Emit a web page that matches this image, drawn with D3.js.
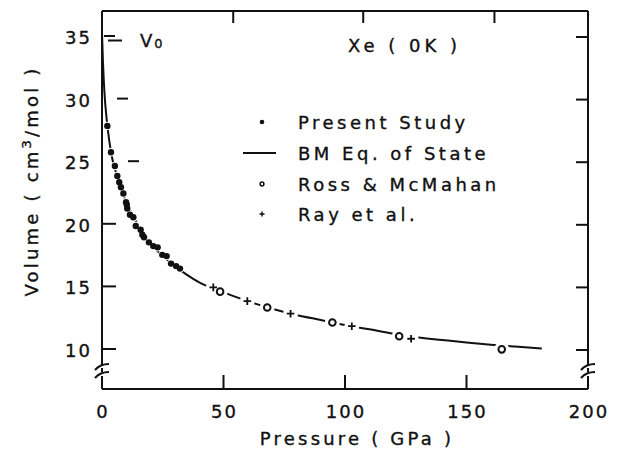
<!DOCTYPE html>
<html lang="en">
<head>
<meta charset="UTF-8">
<title>Xe (0K) volume vs pressure</title>
<script src="https://d3js.org/d3.v7.min.js"></script>
<style>
  body { margin: 0; background: #fff; }
  text { font-family: "DejaVu Sans", Arial, sans-serif; fill: #111; stroke: #111; stroke-width: 0.35px; }
  .tick-label { font-size: 18px; letter-spacing: 2px; }
  .axis-title { font-size: 18px; letter-spacing: 3.2px; }
  .legend-text { font-size: 18px; letter-spacing: 3.5px; }
</style>
</head>
<body>
<div id="chart"></div>
<script>
// present study (filled dots): [pressure GPa, volume cm3/mol]
const presentStudy = [
  [2.2, 27.9], [3.7, 25.8], [5.3, 24.7], [6.3, 23.9], [7.1, 23.4], [7.8, 23.0],
  [8.8, 22.5], [9.9, 21.8], [10.2, 21.6], [10.4, 21.3], [11.5, 20.8], [12.9, 20.6],
  [13.9, 19.9], [15.9, 19.6], [16.6, 19.2], [17.3, 19.0], [19.3, 18.6], [21.1, 18.3],
  [22.9, 18.2], [24.8, 17.6], [26.6, 17.5], [28.4, 16.9], [30.5, 16.7], [32.1, 16.5]
];
// Ross & McMahan (open circles)
const rossMcMahan = [[48.6, 14.66], [68, 13.4], [94.8, 12.2], [122.3, 11.1], [164.5, 10.05]];
// Ray et al. (plus)
const rayEtAl = [[45.8, 15.0], [59.8, 13.9], [77.6, 12.9], [102.8, 11.9], [127.2, 10.9]];
// BM equation of state curve
const bmCurve = [
  [0, 35.3], [0.4, 33.0], [1, 30.6], [2, 28.3], [3, 26.7], [4, 25.5], [5, 24.7],
  [6, 24.0], [8, 22.8], [10, 21.8], [12, 21.0], [15, 19.9], [20, 18.5], [25, 17.5],
  [30, 16.7], [35, 16.0], [40, 15.4], [50, 14.6], [60, 13.9], [70, 13.3], [80, 12.8],
  [90, 12.4], [100, 12.0], [110, 11.65], [120, 11.3], [130, 11.0], [140, 10.8],
  [150, 10.6], [160, 10.42], [170, 10.27], [181, 10.12]
];
const xTicks = [0, 50, 100, 150, 200];
const yTicks = [10, 15, 20, 25, 30, 35];
const topTicks = [54, 107.5, 161.5];
const legendItems = ["Present Study", "BM Eq. of State", "Ross & McMahan", "Ray et al."];

const width = 639, height = 451;
const plotL = 102, plotR = 588, plotT = 11, plotB = 389;

const svg = d3.select("#chart").append("svg")
  .attr("width", width).attr("height", height);

const x = d3.scaleLinear().domain([0, 200]).range([plotL, plotR]);
const y = d3.scaleLinear().domain([10, 35]).range([350, 37]);

const ink = "#111";
const g = svg.append("g");

// frame: top and bottom
g.append("line").attr("x1", plotL).attr("x2", plotR).attr("y1", plotT).attr("y2", plotT)
  .attr("stroke", ink).attr("stroke-width", 2);
g.append("line").attr("x1", plotL).attr("x2", plotR).attr("y1", plotB).attr("y2", plotB)
  .attr("stroke", ink).attr("stroke-width", 2);

// side axes with break
[plotL, plotR].forEach(ax => {
  g.append("line").attr("x1", ax).attr("x2", ax).attr("y1", plotT).attr("y2", 365)
    .attr("stroke", ink).attr("stroke-width", 2);
  g.append("line").attr("x1", ax).attr("x2", ax).attr("y1", 368).attr("y2", 372)
    .attr("stroke", ink).attr("stroke-width", 2);
  g.append("line").attr("x1", ax).attr("x2", ax).attr("y1", 376).attr("y2", plotB)
    .attr("stroke", ink).attr("stroke-width", 2);
  [367, 375].forEach(by => {
    g.append("path")
      .attr("d", `M${ax - 7},${by + 3} Q${ax - 2},${by - 3} ${ax + 7},${by - 3}`)
      .attr("fill", "none").attr("stroke", ink).attr("stroke-width", 2);
  });
});

// bottom ticks + labels
xTicks.forEach(t => {
  if (t > 0 && t < 200) {
    g.append("line").attr("x1", x(t)).attr("x2", x(t)).attr("y1", plotB).attr("y2", plotB - 14)
      .attr("stroke", ink).attr("stroke-width", 2);
  }
  g.append("text").attr("class", "tick-label")
    .attr("x", x(t) + 1).attr("y", 418).attr("text-anchor", "middle").text(t);
});
// top ticks
topTicks.forEach(t => {
  g.append("line").attr("x1", x(t)).attr("x2", x(t)).attr("y1", plotT).attr("y2", plotT + 12)
    .attr("stroke", ink).attr("stroke-width", 2);
});

// left ticks (upper ones drawn detached as in the original)
const leftTickOffset = { 35: [2, 13], 30: [15, 26], 25: [26, 37] };
yTicks.forEach(t => {
  const off = leftTickOffset[t] || [0, 14];
  g.append("line").attr("x1", plotL + off[0]).attr("x2", plotL + off[1])
    .attr("y1", y(t) - 1).attr("y2", y(t) - 1)
    .attr("stroke", ink).attr("stroke-width", 2);
  g.append("line").attr("x1", plotR - 12).attr("x2", plotR)
    .attr("y1", y(t)).attr("y2", y(t))
    .attr("stroke", ink).attr("stroke-width", 2);
  g.append("text").attr("class", "tick-label")
    .attr("x", 92).attr("y", y(t) + 7).attr("text-anchor", "end").text(t);
});

// V0 marker
const v0 = 34.8;
g.append("line").attr("x1", plotL + 6).attr("x2", plotL + 20)
  .attr("y1", y(v0) + 1).attr("y2", y(v0) + 1).attr("stroke", ink).attr("stroke-width", 2);
const v0Label = g.append("text").attr("class", "tick-label")
  .attr("x", 140).attr("y", y(v0) + 7).text("V");
v0Label.append("tspan").attr("font-size", 13).attr("dy", 1).text("0");

// BM curve
const line = d3.line().x(d => x(d[0])).y(d => y(d[1])).curve(d3.curveMonotoneX);
g.append("path").datum(bmCurve).attr("d", line)
  .attr("fill", "none").attr("stroke", ink).attr("stroke-width", 2);

// white gaps around markers
const gapsG = g.append("g");
gapsG.selectAll("circle.gp").data(presentStudy).join("circle")
  .attr("cx", d => x(d[0])).attr("cy", d => y(d[1])).attr("r", 4.2).attr("fill", "#fff");
gapsG.selectAll("circle.go").data(rossMcMahan.concat(rayEtAl)).join("circle")
  .attr("cx", d => x(d[0])).attr("cy", d => y(d[1])).attr("r", 7.5).attr("fill", "#fff");

// markers
g.append("g").selectAll("circle").data(presentStudy).join("circle")
  .attr("cx", d => x(d[0])).attr("cy", d => y(d[1])).attr("r", 3.2).attr("fill", ink);
g.append("g").selectAll("circle").data(rossMcMahan).join("circle")
  .attr("cx", d => x(d[0])).attr("cy", d => y(d[1])).attr("r", 3.3)
  .attr("fill", "#fff").attr("stroke", ink).attr("stroke-width", 2);
g.append("g").selectAll("path").data(rayEtAl).join("path")
  .attr("d", d => `M${x(d[0]) - 3.8},${y(d[1])}h7.6M${x(d[0])},${y(d[1]) - 3.8}v7.6`)
  .attr("stroke", ink).attr("stroke-width", 1.8);

// title
g.append("text").attr("class", "legend-text").attr("x", 348).attr("y", 52)
  .style("letter-spacing", "4px").text("Xe ( 0K )");

// legend
const legY = [122, 153, 184, 214];
legendItems.forEach((name, i) => {
  g.append("text").attr("class", "legend-text").attr("x", 298).attr("y", legY[i] + 7).text(name);
});
g.append("circle").attr("cx", 262).attr("cy", legY[0]).attr("r", 2.3).attr("fill", ink);
g.append("line").attr("x1", 243).attr("x2", 276).attr("y1", legY[1]).attr("y2", legY[1])
  .attr("stroke", ink).attr("stroke-width", 2);
g.append("circle").attr("cx", 262).attr("cy", legY[2]).attr("r", 1.9)
  .attr("fill", "#fff").attr("stroke", ink).attr("stroke-width", 1.5);
g.append("path").attr("d", `M259.5,${legY[3]}h5M262,${legY[3] - 2.5}v5`)
  .attr("stroke", ink).attr("stroke-width", 1.4);

// axis titles
g.append("text").attr("class", "axis-title").attr("x", 357).attr("y", 445)
  .attr("text-anchor", "middle").text("Pressure ( GPa )");
const yt = g.append("text").attr("class", "axis-title")
  .attr("transform", "translate(38,181) rotate(-90)").attr("text-anchor", "middle");
yt.append("tspan").text("Volume ( cm");
yt.append("tspan").attr("font-size", 13).attr("dy", -7).text("3");
yt.append("tspan").attr("dy", 7).text("/mol )");
</script>
</body>
</html>
